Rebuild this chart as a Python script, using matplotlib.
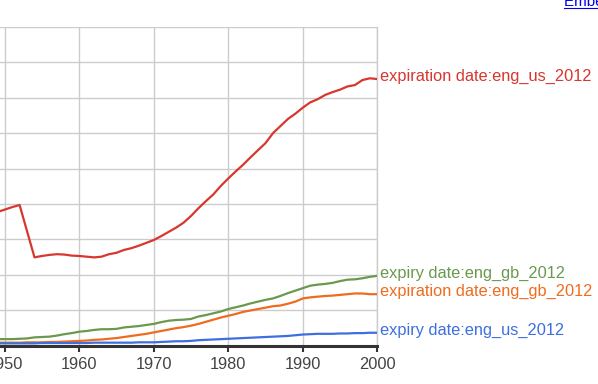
import matplotlib
matplotlib.use("Agg")
import matplotlib.pyplot as plt
from matplotlib.lines import Line2D
from matplotlib.transforms import offset_copy

plt.rcParams['font.family'] = ['Liberation Sans', 'DejaVu Sans']

years = list(range(1949, 2001))

# values, in grid units (one unit = one horizontal gridline)
expiration_us = [3.77, 3.84, 3.91, 3.97, 3.23, 2.49, 2.53, 2.56, 2.58, 2.57,
                 2.54, 2.53, 2.51, 2.49, 2.51, 2.58, 2.62, 2.70, 2.75, 2.82,
                 2.90, 2.98, 3.09, 3.21, 3.33, 3.47, 3.66, 3.88, 4.08, 4.27,
                 4.51, 4.72, 4.92, 5.11, 5.32, 5.52, 5.72, 6.00, 6.20, 6.40,
                 6.55, 6.72, 6.87, 6.96, 7.08, 7.16, 7.23, 7.32, 7.36, 7.50,
                 7.55, 7.53]
expiry_gb = [0.18, 0.18, 0.18, 0.19, 0.20, 0.23, 0.24, 0.25, 0.28, 0.32,
             0.35, 0.39, 0.41, 0.44, 0.46, 0.46, 0.47, 0.51, 0.53, 0.55,
             0.58, 0.61, 0.66, 0.70, 0.72, 0.73, 0.75, 0.82, 0.86, 0.91,
             0.96, 1.03, 1.08, 1.13, 1.19, 1.24, 1.29, 1.33, 1.40, 1.48,
             1.55, 1.62, 1.69, 1.72, 1.74, 1.77, 1.82, 1.86, 1.87, 1.90,
             1.94, 1.97]
expiration_gb = [0.08, 0.08, 0.08, 0.08, 0.09, 0.09, 0.09, 0.10, 0.10, 0.11,
                 0.12, 0.13, 0.14, 0.16, 0.17, 0.19, 0.21, 0.24, 0.27, 0.30,
                 0.33, 0.37, 0.41, 0.45, 0.49, 0.52, 0.56, 0.61, 0.67, 0.73,
                 0.79, 0.84, 0.89, 0.95, 0.99, 1.03, 1.07, 1.11, 1.13, 1.18,
                 1.24, 1.33, 1.36, 1.38, 1.40, 1.41, 1.43, 1.45, 1.47, 1.47,
                 1.45, 1.45]
expiry_us = [0.06, 0.06, 0.06, 0.06, 0.06, 0.06, 0.07, 0.07, 0.07, 0.07,
             0.07, 0.07, 0.07, 0.08, 0.08, 0.08, 0.08, 0.08, 0.08, 0.09,
             0.09, 0.09, 0.10, 0.11, 0.12, 0.12, 0.13, 0.15, 0.16, 0.17,
             0.18, 0.19, 0.20, 0.21, 0.22, 0.23, 0.24, 0.25, 0.26, 0.27,
             0.29, 0.31, 0.32, 0.33, 0.33, 0.33, 0.34, 0.34, 0.35, 0.35,
             0.36, 0.36]

series = [
    ("expiration date:eng_us_2012", expiration_us, "#d7372e"),
    ("expiry date:eng_gb_2012", expiry_gb, "#6a994e"),
    ("expiration date:eng_gb_2012", expiration_gb, "#ee6c1e"),
    ("expiry date:eng_us_2012", expiry_us, "#3d6fe0"),
]
decade_ticks = [1950, 1960, 1970, 1980, 1990, 2000]

W, H = 598, 384
fig = plt.figure(figsize=(W / 100, H / 100), dpi=100)
ax = fig.add_axes([0, (H - 345.5) / H, 377.3 / W, (345.5 - 27) / H])

# end labels sit a few pixels above the line ends
label_tr = offset_copy(ax.transData, fig=fig, x=3, y=4, units='dots')
for name, vals, col in series:
    ax.plot(years, vals, color=col, lw=1.6, solid_capstyle='round', zorder=3)
    ax.text(years[-1], vals[-1], name, color=col, fontsize=11.8,
            va='center_baseline', ha='left', clip_on=False, transform=label_tr)

ax.set_xlim(1949.37, 2000)
ax.set_ylim(0, 9)
ax.set_xticks(decade_ticks)
ax.set_yticks(range(1, 10))
ax.set_yticklabels([])
ax.grid(True, color='#cccccc', lw=1)
ax.set_axisbelow(True)
for s in ['left', 'top']:
    ax.spines[s].set_visible(False)
ax.spines['right'].set_color('#cccccc')
ax.spines['right'].set_linewidth(1)
ax.spines['bottom'].set_color('#333333')
ax.spines['bottom'].set_linewidth(2.2)
ax.spines['bottom'].set_zorder(4)
ax.tick_params(axis='y', length=0)
ax.tick_params(axis='x', length=4, width=1.5, color='#333333',
               labelsize=11.8, labelcolor='#444444', pad=4)

# cut-off "Embed Chart" link at the top right
fig.text(564 / W, 1 - 6.5 / H, "Embed Chart", color='#0000ee', fontsize=11,
         va='baseline', ha='left')
fig.add_artist(Line2D([564 / W, 1.0], [1 - 8 / H, 1 - 8 / H],
                      color='#0000ee', lw=0.8))

fig.savefig("out.png", dpi=100)
